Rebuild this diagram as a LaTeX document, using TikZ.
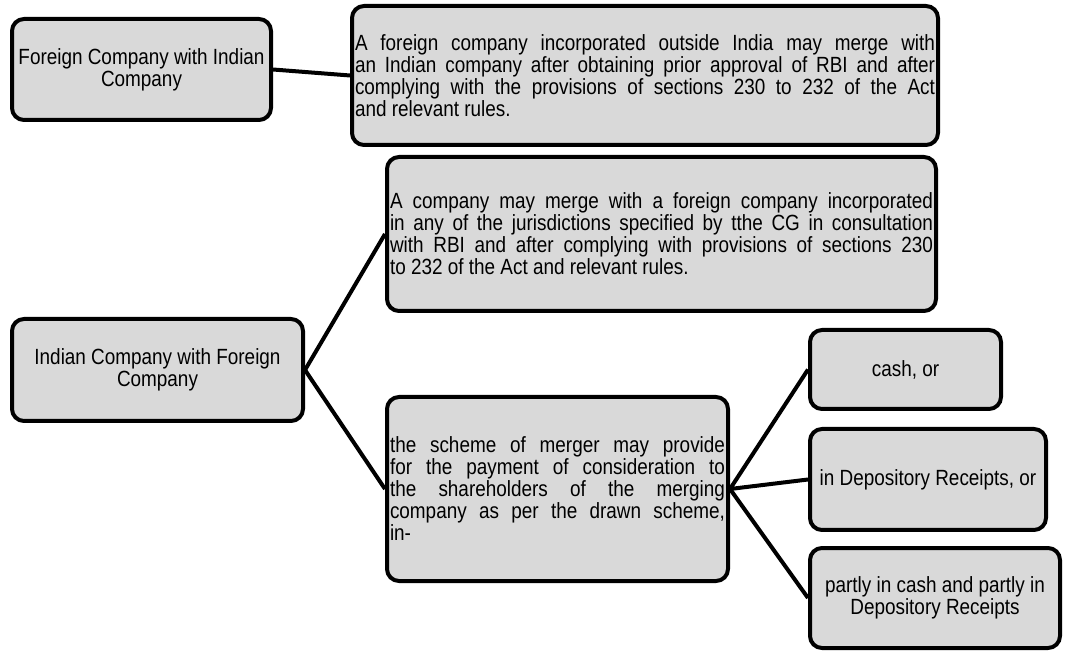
\documentclass[tikz,border=0pt]{standalone}
\usepackage{fontspec}
\setmainfont[FakeStretch=0.86]{Liberation Sans}
\definecolor{boxgray}{HTML}{D9D9D9}

\begin{document}
\begin{tikzpicture}[x=1pt,y=1pt]
\tikzset{Box/.style ={draw, line width=4pt, rounded corners=12pt, fill=boxgray, inner sep=2pt, font=\fontsize{22}{22}\selectfont},
         Conn/.style ={line width=4pt}}
\useasboundingbox (0,0) rectangle (1069,654);
\node[Box,minimum width=259,minimum height=101,align=center] (forind) at (141.5,584.5) {Foreign Company with Indian\\Company};
\node[Box,minimum width=586,minimum height=139,text width=580,align=justify] (rbi) at (645,578.5)
  {\hyphenpenalty=10000 A foreign company incorporated outside India may merge with\linebreak an Indian company after obtaining prior approval of RBI and after\linebreak complying with the provisions of sections 230 to 232 of the Act\linebreak and relevant rules.};
\node[Box,minimum width=291,minimum height=102,align=center] (indfor) at (157.5,284) {Indian Company with Foreign\\Company};
\node[Box,minimum width=549,minimum height=154,text width=543,align=justify] (cg) at (661.5,420)
  {\hyphenpenalty=10000 A company may merge with a foreign company incorporated\linebreak in any of the jurisdictions specified by tthe CG in consultation\linebreak with RBI and after complying with provisions of sections 230\linebreak to 232 of the Act and relevant rules.};
\node[Box,minimum width=341,minimum height=184,text width=335,align=justify] (scheme) at (557.5,165)
  {\hyphenpenalty=10000 the scheme of merger may provide\linebreak for the payment of consideration to\linebreak the shareholders of the merging\linebreak company as per the drawn scheme,\linebreak in-};
\node[Box,minimum width=191,minimum height=79,align=center] (cash) at (905.5,284.5) {cash, or};
\node[Box,minimum width=236,minimum height=101,align=center] (dr) at (928,174.5) {in Depository Receipts, or};
\node[Box,minimum width=250,minimum height=100,align=center] (part) at (935,56) {partly in cash and partly in\\Depository Receipts};
% connectors
\draw[Conn] (forind.east) -- (rbi.west);
\draw[Conn] (indfor.east) -- (cg.west);
\draw[Conn] (indfor.east) -- (scheme.west);
\foreach \t in {cash,dr,part}
  \draw[Conn] (scheme.east) -- (\t.west);
\end{tikzpicture}
\end{document}
